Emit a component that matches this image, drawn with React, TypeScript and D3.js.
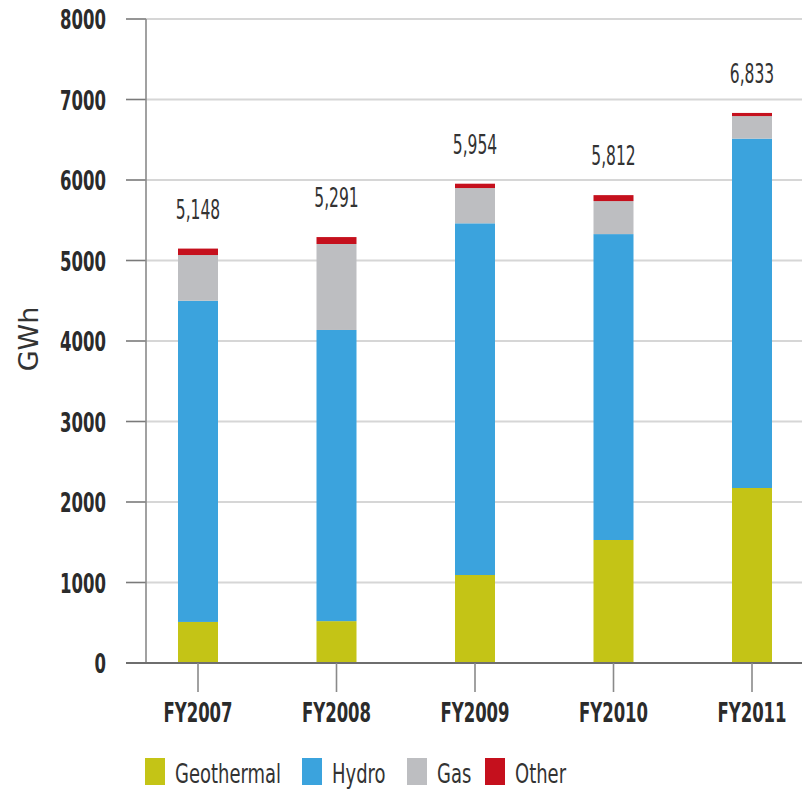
import React from "react";
import * as d3 from "d3";

// Electricity generation by fuel type, GWh
const years = ["FY2007", "FY2008", "FY2009", "FY2010", "FY2011"];
const geothermal = [510, 520, 1093, 1528, 2174];
const hydro = [3990, 3617, 4369, 3800, 4340];
const gas = [568, 1068, 438, 410, 280];
const other = [80, 86, 54, 74, 39];
const totalLabels = ["5,148", "5,291", "5,954", "5,812", "6,833"];
const yTicks = [0, 1000, 2000, 3000, 4000, 5000, 6000, 7000, 8000];

const seriesNames = ["Geothermal", "Hydro", "Gas", "Other"];
const seriesColors = ["#c4c416", "#3ba3dd", "#bdbec1", "#c5101d"];

const W = 804;
const H = 789;
const NARROW = "'DejaVu Sans Condensed', 'DejaVu Sans', sans-serif";

// Condensed text: DejaVu Condensed squeezed further horizontally
function Txt(props: {
  x: number;
  y: number;
  sx: number;
  size: number;
  anchor?: string;
  bold?: boolean;
  fill?: string;
  children: React.ReactNode;
}) {
  return (
    <g transform={`translate(${props.x},${props.y}) scale(${props.sx},1)`}>
      <text
        textAnchor={props.anchor || "start"}
        fontFamily={NARROW}
        fontWeight={props.bold ? "bold" : "normal"}
        fontSize={props.size}
        fill={props.fill || "#333"}
      >
        {props.children}
      </text>
    </g>
  );
}

export default function App() {
  const rows = years.map((year, i) => ({
    year,
    Geothermal: geothermal[i],
    Hydro: hydro[i],
    Gas: gas[i],
    Other: other[i],
  }));
  const stacked = d3.stack<any>().keys(seriesNames)(rows);

  const y = d3.scaleLinear().domain([0, 8000]).range([663, 19]);
  const x = d3.scalePoint<string>().domain(years).range([198, 752]);
  const barW = 40;
  const axisX = 146;

  return (
    <svg
      width={W}
      height={H}
      style={{ position: "absolute", left: 0, top: 0, background: "#fff" }}
    >
      {/* horizontal gridlines and left tick stubs */}
      {yTicks.map((t) => (
        <g key={t}>
          {t > 0 && (
            <line x1={axisX} x2={802} y1={y(t)} y2={y(t)} stroke="#d6d6d6" strokeWidth={2} />
          )}
          <line x1={126} x2={axisX} y1={y(t)} y2={y(t)} stroke="#7a7a7a" strokeWidth={1.6} />
          <Txt x={106} y={y(t) + 10} sx={0.68} size={27} anchor="end" bold fill="#2b2b2b">
            {t}
          </Txt>
        </g>
      ))}

      {/* stacked bars */}
      {stacked.map((layer, si) => (
        <g key={layer.key} fill={seriesColors[si]}>
          {layer.map((d, i) => (
            <rect
              key={years[i]}
              x={(x(years[i]) as number) - barW / 2}
              width={barW}
              y={y(d[1])}
              height={y(d[0]) - y(d[1])}
            />
          ))}
        </g>
      ))}

      {/* y axis line and baseline */}
      <line x1={axisX} x2={axisX} y1={y(8000)} y2={y(0)} stroke="#8a8a8a" strokeWidth={1.6} />
      <line x1={126} x2={802} y1={y(0)} y2={y(0)} stroke="#6e6e6e" strokeWidth={2} />

      {/* category ticks and labels */}
      {years.map((yr) => (
        <g key={yr}>
          <line
            x1={x(yr)}
            x2={x(yr)}
            y1={y(0)}
            y2={692}
            stroke="#8a8a8a"
            strokeWidth={1.6}
          />
          <Txt x={x(yr) as number} y={722} sx={0.68} size={27} anchor="middle" bold fill="#2b2b2b">
            {yr}
          </Txt>
        </g>
      ))}

      {/* total labels above bars */}
      {years.map((yr, i) => {
        const total = geothermal[i] + hydro[i] + gas[i] + other[i];
        return (
          <Txt key={yr} x={x(yr) as number} y={y(total) - 30} sx={0.64} size={27} anchor="middle">
            {totalLabels[i]}
          </Txt>
        );
      })}

      {/* y axis title */}
      <text
        transform={`translate(38,339) rotate(-90)`}
        textAnchor="middle"
        fontFamily="'DejaVu Sans', sans-serif"
        fontSize={27}
        fill="#333"
      >
        GWh
      </text>

      {/* legend */}
      {seriesNames.map((name, i) => {
        const lx = [145, 302, 407, 485][i];
        return (
          <g key={name}>
            <rect x={lx} y={758} width={20} height={27} fill={seriesColors[i]} />
            <Txt x={lx + 30} y={783} sx={0.74} size={27}>
              {name}
            </Txt>
          </g>
        );
      })}
    </svg>
  );
}
